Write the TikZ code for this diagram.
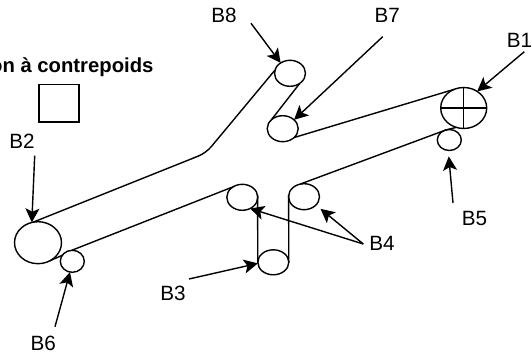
\documentclass[tikz,border=0pt]{standalone}
\usepackage{fontspec}
\setmainfont{Liberation Sans}
\usetikzlibrary{arrows.meta,shapes.geometric}
\tikzset{
  wheel/.style={draw,ellipse,inner sep=0pt,outer sep=0pt,line width=1.05pt},
  belt/.style={line width=1.05pt},
  lab/.style={inner sep=0pt,outer sep=0pt,font=\fontsize{15.5}{17}\selectfont},
  arr/.style={line width=1.05pt,-{Stealth[length=10.5pt,width=10.5pt,inset=2.5pt]}},
}
\begin{document}
\begin{tikzpicture}[x=0.75pt,y=-0.75pt]
\useasboundingbox (0,0) rectangle (532,360);
% wheels
\node[wheel,minimum width=34.5pt,minimum height=30.75pt] (B1) at (463.7,108) {};
\node[wheel,minimum width=18pt,minimum height=15.75pt] (B5) at (449.3,140) {};
\node[wheel,minimum width=23.25pt,minimum height=19.5pt] (B7) at (282.7,128.7) {};
\node[wheel,minimum width=23.25pt,minimum height=19.5pt] (B8) at (290,73.3) {};
\node[wheel,minimum width=35.25pt,minimum height=31.5pt] (B2) at (38,242.7) {};
\node[wheel,minimum width=18pt,minimum height=16.5pt] (B6) at (72.3,261.3) {};
\node[wheel,minimum width=23.25pt,minimum height=19.5pt] (B4a) at (242.3,197.3) {};
\node[wheel,minimum width=23.25pt,minimum height=19.5pt] (B4b) at (304,196.7) {};
\node[wheel,minimum width=23.25pt,minimum height=18.75pt] (B3) at (273.3,262.3) {};
% cross in B1
\draw[belt] (B1.north) -- (B1.south);
\draw[belt] (B1.west) -- (B1.east);
% belts
\coordinate (bend) at (206,153);
\draw[belt,rounded corners=6pt] (B2.103.6) -- (bend) -- (B8.168);
\draw[belt] (B8.-46) -- (B7.143);
\draw[belt] (B7.-38) -- (B1.117);
\draw[belt] (B1.-111) -- (B5.107) -- (B4b.107);
\draw[belt] (B4b.174) -- (B3.east);
\draw[belt] (B4a.8) -- (B3.west);
\draw[belt] (B4a.131) -- (B6.93);
\draw[belt] (B6.149) -- (B2.-57);
% box
\node[draw,line width=1.05pt,inner sep=0pt,outer sep=0pt,minimum width=30pt,minimum height=28.3pt] (box) at (59,103.2) {};
\node[inner sep=0pt,anchor=base east,font=\bfseries\fontsize{15.2}{17}\selectfont] (title) at (153.7,72.7) {on à contrepoids};
% labels
\node[lab] (lB8) at (224,15) {B8};
\node[lab] (lB7) at (387.3,15) {B7};
\node[lab] (lB1) at (519.5,40) {B1};
\node[lab] (lB2) at (22,141.7) {B2};
\node[lab] (lB5) at (474.5,218) {B5};
\node[lab] (lB4) at (382,243) {B4};
\node[lab] (lB3) at (173,293) {B3};
\node[lab] (lB6) at (43.3,343.7) {B6};
% arrow tails
\coordinate (t8) at (251,23.3);
\coordinate (t7) at (382.7,36.7);
\coordinate (t1) at (524.3,51.7);
\coordinate (t2) at (34.7,155.7);
\coordinate (t5) at (453,203);
\coordinate (t6) at (55,326.7);
\coordinate (t3) at (189,279);
\coordinate (t4) at (363.3,244);
% arrows
\draw[arr] (t8) -- (B8.132.7);
\draw[arr] (t7) -- (B7.38.8);
\draw[arr] (t1) -- (B1.51);
\draw[arr] (t2) -- (B2.107);
\draw[arr,shorten >=4.5pt] (t5) -- (B5.-96);
\draw[arr] (t6) -- (B6.-102);
\draw[arr] (t3) -- (B3.184);
\draw[arr] (t4) -- (B4a.-55);
\draw[arr,shorten >=4.5pt] (t4) -- (B4b.-35);
\end{tikzpicture}
\end{document}
